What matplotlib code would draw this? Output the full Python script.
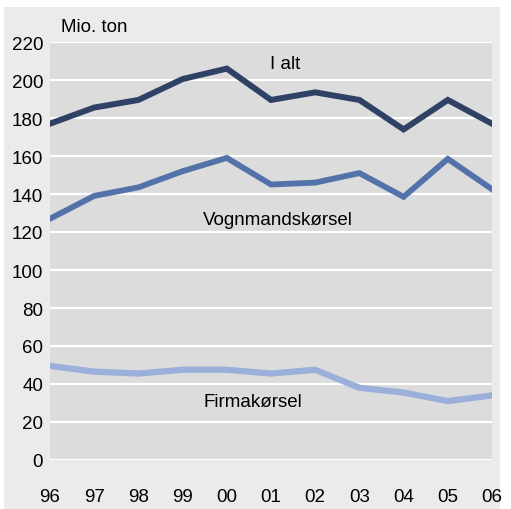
import matplotlib
matplotlib.use("Agg")
import matplotlib.pyplot as plt
from matplotlib.patches import Rectangle

years = ["96", "97", "98", "99", "00", "01", "02", "03", "04", "05", "06"]
i_alt = [177, 185.5, 189.5, 200.5, 206, 189.5, 193.5, 189.5, 174, 189.5, 177]
vognmand = [127, 139, 143.5, 152, 159, 145, 146, 151, 138.5, 158.5, 142.5]
firma = [49.5, 46.5, 45.5, 47.5, 47.5, 45.5, 47.5, 38, 35.5, 31, 34]
y_ticks = [0, 20, 40, 60, 80, 100, 120, 140, 160, 180, 200, 220]

plt.rcParams['font.family'] = ['Liberation Sans Narrow', 'Liberation Sans', 'DejaVu Sans']

fig = plt.figure(figsize=(5.11, 5.10), dpi=100)
fig.patch.set_facecolor("white")
fig.patches.append(Rectangle((4/511, 0), 496/511, 502/510, transform=fig.transFigure,
                             facecolor="#ebebeb", edgecolor="none", zorder=-5))

ax = fig.add_axes([50/511, 49/510, 442/511, 418/510])
ax.set_facecolor("#dcdcdc")
x = list(range(len(years)))

ax.plot(x, firma, color="#9aafd9", lw=4.5, solid_joinstyle="miter", zorder=3)
ax.plot(x, vognmand, color="#5472aa", lw=4.2, solid_joinstyle="miter", zorder=3)
ax.plot(x, i_alt, color="#2f4266", lw=4.3, solid_joinstyle="miter", zorder=3)

ax.set_xlim(0, len(years) - 1)
ax.set_ylim(0, 220)
ax.set_yticks(y_ticks)
ax.set_yticklabels([str(v) for v in y_ticks])
ax.set_xticks(x)
ax.set_xticklabels(years)
for s in ax.spines.values():
    s.set_visible(False)
ax.grid(axis="y", color="white", lw=1.6, zorder=1)
ax.set_axisbelow(True)
ax.tick_params(axis="both", length=0, labelsize=13.5, colors="black")
ax.tick_params(axis="y", pad=5)
ax.tick_params(axis="x", pad=20)

ax.text(5.32, 208.5, "I alt", ha="center", va="center", fontsize=13.5)
ax.text(5.16, 126.8, "Vognmandskørsel", ha="center", va="center", fontsize=13.5)
ax.text(4.59, 31, "Firmakørsel", ha="center", va="center", fontsize=13.5)
fig.text(61/511, 1 - 27/510, "Mio. ton", ha="left", va="center", fontsize=13.5)

fig.savefig("out.png", dpi=100)
